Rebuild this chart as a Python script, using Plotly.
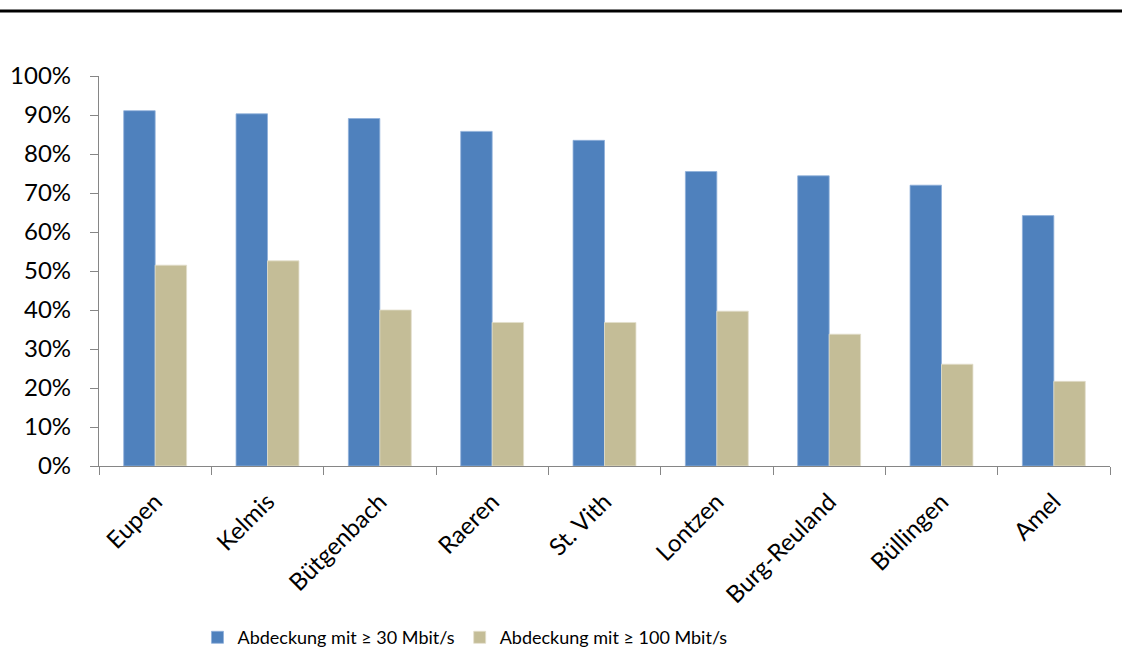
import plotly.graph_objects as go

categories = ["Eupen", "Kelmis", "Bütgenbach", "Raeren", "St. Vith", "Lontzen",
              "Burg-Reuland", "Büllingen", "Amel"]
cov_30 = [0.911, 0.903, 0.891, 0.858, 0.835, 0.755, 0.744, 0.720, 0.642]
cov_100 = [0.515, 0.526, 0.400, 0.368, 0.368, 0.397, 0.338, 0.261, 0.217]
series_names = ["Abdeckung mit ≥ 30 Mbit/s", "Abdeckung mit ≥ 100 Mbit/s"]
y_ticks = [0, 0.1, 0.2, 0.3, 0.4, 0.5, 0.6, 0.7, 0.8, 0.9, 1.0]

FONT = "Lato"
fig = go.Figure()
fig.add_trace(go.Bar(x=categories, y=cov_30, name=series_names[0],
                     marker=dict(color="#4F81BD", line=dict(color="#8FB0DA", width=0.8))))
fig.add_trace(go.Bar(x=categories, y=cov_100, name=series_names[1],
                     marker=dict(color="#C4BD97", line=dict(color="#E2DECB", width=0.8))))

fig.update_layout(
    width=1122, height=667,
    margin=dict(l=99, r=12, t=76, b=201, autoexpand=False),
    paper_bgcolor="white", plot_bgcolor="white",
    barmode="group", bargap=0.44, bargroupgap=0,
    font=dict(family=FONT, color="black"),
    showlegend=True,
    legend=dict(orientation="h", x=0.362, xanchor="center", y=-0.44, yanchor="middle",
                font=dict(size=18, family=FONT), itemwidth=30,
                traceorder="normal", bgcolor="rgba(0,0,0,0)"),
)
fig.update_xaxes(
    type="category", showgrid=False, showline=True, linecolor="#868686", linewidth=1.3,
    ticks="outside", tickson="boundaries", ticklen=8, tickcolor="#868686", tickwidth=1.3,
    tickangle=-45, tickfont=dict(size=24, family=FONT, color="black"), ticklabelstandoff=11,
)
fig.update_yaxes(
    range=[0, 1], tickvals=y_ticks, tickformat=".0%", showgrid=False, zeroline=False,
    showline=True, linecolor="#868686", linewidth=1.3,
    ticks="outside", ticklen=8, tickcolor="#868686", tickwidth=1.3,
    tickfont=dict(size=24, family=FONT, color="black"), ticklabelstandoff=14,
)
fig.add_shape(type="line", xref="paper", yref="paper", x0=-99/1011, x1=1 + 12/1011,
              y0=1 + 65/390, y1=1 + 65/390, line=dict(color="black", width=3))

fig.write_html("out.html")
